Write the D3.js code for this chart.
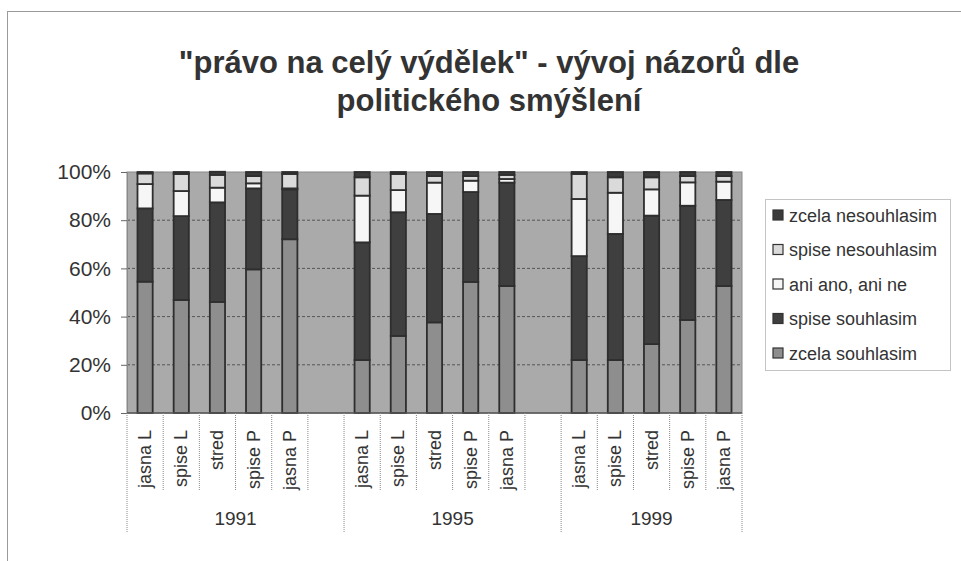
<!DOCTYPE html>
<html>
<head>
<meta charset="utf-8">
<script src="https://cdn.jsdelivr.net/npm/d3@7"></script>
<style>
  body { margin: 0; background: #fff; }
  text { font-family: "Liberation Sans", Arial, sans-serif; fill: #333; }
</style>
</head>
<body>
<div id="canvas"></div>
<script>
"use strict"

// data (percent of respondents)
let years = ["1991", "1995", "1999"];
let groups = ["jasna L", "spise L", "stred", "spise P", "jasna P"];
let seriesNames = ["zcela souhlasim", "spise souhlasim", "ani ano, ani ne", "spise nesouhlasim", "zcela nesouhlasim"];

// per year, per group (1991 x5, 1995 x5, 1999 x5)
let zcelaSouhlasim   = [54.5, 46.9, 46.1, 59.6, 72.1,  22.0, 32.0, 37.6, 54.4, 52.7,  22.0, 22.0, 28.6, 38.6, 52.7];
let spiseSouhlasim   = [30.4, 34.8, 41.3, 33.6, 20.7,  48.8, 51.3, 45.0, 37.3, 42.9,  43.1, 52.3, 53.3, 47.4, 35.7];
let aniAnoAniNe      = [10.1, 10.4,  6.1,  2.1,  0.4,  19.4,  9.2, 13.0,  4.7,  1.5,  23.7, 17.1, 10.9,  9.7,  7.6];
let spiseNesouhlasim = [ 4.4,  7.1,  5.3,  3.0,  6.0,   7.6,  6.7,  2.7,  1.9,  1.7,  10.4,  6.4,  5.0,  2.6,  2.3];
let zcelaNesouhlasim = [ 0.6,  0.8,  1.3,  1.7,  0.8,   2.2,  0.8,  1.7,  1.7,  1.2,   0.8,  2.2,  2.2,  1.7,  1.7];
let yTicks = [0, 20, 40, 60, 80, 100];

let seriesValues = [zcelaSouhlasim, spiseSouhlasim, aniAnoAniNe, spiseNesouhlasim, zcelaNesouhlasim];
let seriesColors = ["#8e8e8e", "#3f3f3f", "#f6f6f6", "#dadada", "#3a3a3a"];

let drawingWidth = 961;
let drawingHeight = 561;

let plotLeft = 127, plotRight = 742, plotTop = 172, plotBottom = 413;

let drawing = d3.select("#canvas")
    .append("svg")
    .attr("width", drawingWidth)
    .attr("height", drawingHeight);

// chart frame (only top and left show)
drawing.append("rect")
    .attr("x", 7.5)
    .attr("y", 11.5)
    .attr("width", 1000)
    .attr("height", 600)
    .attr("fill", "white")
    .attr("stroke", "#9a9a9a");

// title
let title = drawing.append("text")
    .attr("text-anchor", "middle")
    .attr("font-weight", "bold")
    .attr("font-size", 31);
title.append("tspan").attr("x", 489).attr("y", 73)
    .text("\"právo na celý výdělek\" - vývoj názorů dle");
title.append("tspan").attr("x", 489).attr("y", 111)
    .text("politického smýšlení");

// one slot per category, with an empty slot between the years
let slots = [];
years.forEach((yr, i) => {
    groups.forEach(g => slots.push(yr + "|" + g));
    if (i < years.length - 1) slots.push(yr + "|gap");
});

let x = d3.scaleBand()
    .domain(slots)
    .range([plotLeft, plotRight])
    .paddingInner(0.58)
    .paddingOuter(0.29);
let step = x.step();

let y = d3.scaleLinear()
    .domain([0, 100])
    .range([plotBottom, plotTop]);

// plot background
drawing.append("rect")
    .attr("x", plotLeft)
    .attr("y", plotTop)
    .attr("width", plotRight - plotLeft)
    .attr("height", plotBottom - plotTop)
    .attr("fill", "#aaaaaa")
    .attr("stroke", "#8a8a8a");

// gridlines
drawing.append("g")
    .selectAll("line")
    .data(yTicks.filter(t => t > 0 && t < 100))
    .join("line")
    .attr("x1", plotLeft)
    .attr("x2", plotRight)
    .attr("y1", d => y(d))
    .attr("y2", d => y(d))
    .attr("stroke", "#555")
    .attr("stroke-width", 1)
    .attr("stroke-dasharray", "3,2");

// y axis
let yAxis = drawing.append("g")
    .attr("transform", "translate(" + plotLeft + ",0)")
    .call(d3.axisLeft(y).tickValues(yTicks).tickFormat(d => d + "%").tickSize(6).tickPadding(10));
yAxis.select(".domain").attr("stroke", "#8a8a8a");
yAxis.selectAll(".tick line").attr("stroke", "#666");
yAxis.selectAll(".tick text")
    .attr("font-size", 21)
    .attr("fill", "#333")
    .attr("font-family", "Liberation Sans, Arial, sans-serif");

// stacked bars
let rows = [];
years.forEach((yr, i) => {
    groups.forEach((g, j) => {
        let idx = i * groups.length + j;
        let row = { key: yr + "|" + g };
        seriesNames.forEach((s, k) => row[s] = seriesValues[k][idx]);
        rows.push(row);
    });
});
let stacked = d3.stack().keys(seriesNames)(rows);

drawing.append("g")
    .selectAll("g")
    .data(stacked)
    .join("g")
    .attr("fill", (d, i) => seriesColors[i])
    .selectAll("rect")
    .data(d => d)
    .join("rect")
    .attr("x", d => x(d.data.key))
    .attr("width", x.bandwidth())
    .attr("y", d => y(d[1]))
    .attr("height", d => y(d[0]) - y(d[1]))
    .attr("stroke", "#2e2e2e")
    .attr("stroke-width", 1.8);

// category axis baseline
drawing.append("line")
    .attr("x1", plotLeft).attr("x2", plotRight)
    .attr("y1", plotBottom).attr("y2", plotBottom)
    .attr("stroke", "#555")
    .attr("stroke-width", 1.5);

// category dividers
let catAxis = drawing.append("g");
slots.forEach((s, i) => {
    let left = x(s) - (step - x.bandwidth()) / 2;
    let isGroupStart = i === 0 || s.split("|")[0] !== slots[i - 1].split("|")[0];
    catAxis.append("line")
        .attr("x1", left).attr("x2", left)
        .attr("y1", plotBottom)
        .attr("y2", isGroupStart ? 533 : 490)
        .attr("stroke", "#888")
        .attr("stroke-dasharray", "1,1");
});
catAxis.append("line")
    .attr("x1", plotRight).attr("x2", plotRight)
    .attr("y1", plotBottom).attr("y2", 533)
    .attr("stroke", "#888")
    .attr("stroke-dasharray", "1,1");

// category labels (rotated)
catAxis.selectAll("text.cat")
    .data(slots.filter(s => !s.endsWith("|gap")))
    .join("text")
    .attr("class", "cat")
    .attr("font-size", 18)
    .attr("text-anchor", "end")
    .attr("transform", d => "translate(" + (x(d) + x.bandwidth() / 2 + 6) + ",430) rotate(-90)")
    .text(d => d.split("|")[1]);

// year labels
catAxis.selectAll("text.year")
    .data(years)
    .join("text")
    .attr("class", "year")
    .attr("font-size", 19)
    .attr("text-anchor", "middle")
    .attr("x", yr => {
        let inYear = slots.filter(s => s.startsWith(yr + "|"));
        let a = x(inYear[0]) - (step - x.bandwidth()) / 2;
        let b = x(inYear[inYear.length - 1]) + x.bandwidth() + (step - x.bandwidth()) / 2;
        return (a + b) / 2;
    })
    .attr("y", 525)
    .text(d => d);

// legend, top entry is the last series
let legend = drawing.append("g");
legend.append("rect")
    .attr("x", 765.5).attr("y", 199.5)
    .attr("width", 185).attr("height", 171)
    .attr("fill", "white")
    .attr("stroke", "#888")
    .attr("stroke-dasharray", "1,1");
let legendOrder = seriesNames.slice().reverse();
let legendItems = legend.selectAll("g.item")
    .data(legendOrder)
    .join("g")
    .attr("class", "item")
    .attr("transform", (d, i) => "translate(773," + (215 + i * 34.5) + ")");
legendItems.append("rect")
    .attr("x", 0).attr("y", -5)
    .attr("width", 10).attr("height", 10)
    .attr("fill", d => seriesColors[seriesNames.indexOf(d)])
    .attr("stroke", "#333")
    .attr("stroke-width", 1.2);
legendItems.append("text")
    .attr("x", 16)
    .attr("y", 6.5)
    .attr("font-size", 18)
    .text(d => d);
</script>
</body>
</html>
